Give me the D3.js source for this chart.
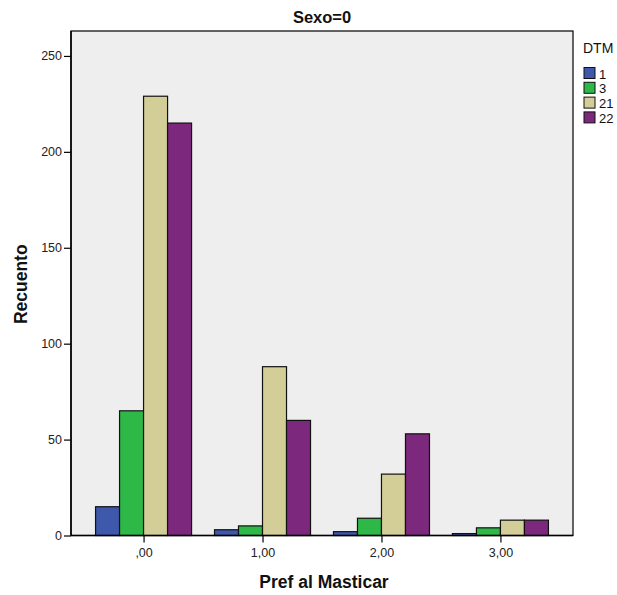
<!DOCTYPE html>
<html><head><meta charset="utf-8">
<script src="https://cdn.jsdelivr.net/npm/d3@7"></script>
<style>body{margin:0;background:#fff}svg{display:block}text{font-family:"Liberation Sans",Arial,sans-serif}</style>
</head><body><svg id="c" width="617" height="595"></svg>
<script>
const categories = [",00", "1,00", "2,00", "3,00"];
const seriesNames = ["1", "3", "21", "22"];
const s1 = [15, 3, 2, 1];
const s3 = [65, 5, 9, 4];
const s21 = [229, 88, 32, 8];
const s22 = [215, 60, 53, 8];
const yTicks = [0, 50, 100, 150, 200, 250];
const colors = ["#3E58AC", "#2EB848", "#D3CE97", "#7C287D"];
const seriesValues = [s1, s3, s21, s22];

const svg = d3.select("#c");
const L = 71, R = 573, T = 31, B = 535.5;
svg.append("rect").attr("x", L).attr("y", T).attr("width", R - L).attr("height", B - T)
  .attr("fill", "#EEEEEE").attr("stroke", "#000").attr("stroke-width", 1.2);

const y = d3.scaleLinear().domain([0, 263]).range([B, T]);
const x = d3.scalePoint().domain(categories).range([L, R]).padding(0.61);
const inner = d3.scaleBand().domain(seriesNames).range([-48, 48]);

categories.forEach((c, i) => {
  const g = svg.append("g").attr("transform", `translate(${x(c)},0)`);
  seriesNames.forEach((s, j) => {
    const v = seriesValues[j][i];
    g.append("rect").attr("x", inner(s)).attr("width", inner.bandwidth())
      .attr("y", y(v)).attr("height", B - y(v))
      .attr("fill", colors[j]).attr("stroke", "#111").attr("stroke-width", 1.2);
  });
});

const ya = svg.append("g").attr("transform", `translate(${L},0)`)
  .call(d3.axisLeft(y).tickValues(yTicks).tickSize(7).tickSizeOuter(0).tickPadding(2));
ya.select(".domain").remove();
ya.selectAll("line").attr("stroke", "#000").attr("stroke-width", 1.2);
ya.selectAll("text").attr("font-size", 12.5).attr("fill", "#222").style("font-family", '"Liberation Sans",Arial,sans-serif');

const xa = svg.append("g").attr("transform", `translate(0,${B})`)
  .call(d3.axisBottom(x).tickSize(7).tickSizeOuter(0).tickPadding(6));
xa.select(".domain").remove();
xa.selectAll("line").attr("stroke", "#000").attr("stroke-width", 1.2);
xa.selectAll("text").attr("font-size", 12.5).attr("fill", "#222").style("font-family", '"Liberation Sans",Arial,sans-serif');

svg.append("line").attr("x1", L).attr("x2", R).attr("y1", B).attr("y2", B).attr("stroke", "#000").attr("stroke-width", 1.5);
svg.append("line").attr("x1", L).attr("x2", L).attr("y1", T).attr("y2", B).attr("stroke", "#000").attr("stroke-width", 1.5);

svg.append("text").attr("x", (L + R) / 2).attr("y", 22.5).attr("text-anchor", "middle")
  .attr("font-size", 16.5).attr("font-weight", "bold").attr("fill", "#111").text("Sexo=0");
svg.append("text").attr("x", (L + R) / 2 + 2).attr("y", 588).attr("text-anchor", "middle")
  .attr("font-size", 17.5).attr("font-weight", "bold").attr("fill", "#111").text("Pref al Masticar");
svg.append("text").attr("transform", `translate(27,${(T + B) / 2 + 1}) rotate(-90)`).attr("text-anchor", "middle")
  .attr("font-size", 17.5).attr("font-weight", "bold").attr("fill", "#111").text("Recuento");

const lg = svg.append("g");
lg.append("text").attr("x", 583).attr("y", 53).attr("font-size", 14).attr("fill", "#111").text("DTM");
seriesNames.forEach((s, j) => {
  const yy = 67.5 + j * 14.8;
  lg.append("rect").attr("x", 584).attr("y", yy).attr("width", 11).attr("height", 11)
    .attr("fill", colors[j]).attr("stroke", "#111").attr("stroke-width", 1);
  lg.append("text").attr("x", 599).attr("y", yy + 11).attr("font-size", 13).attr("fill", "#111").text(s);
});
</script></body></html>
